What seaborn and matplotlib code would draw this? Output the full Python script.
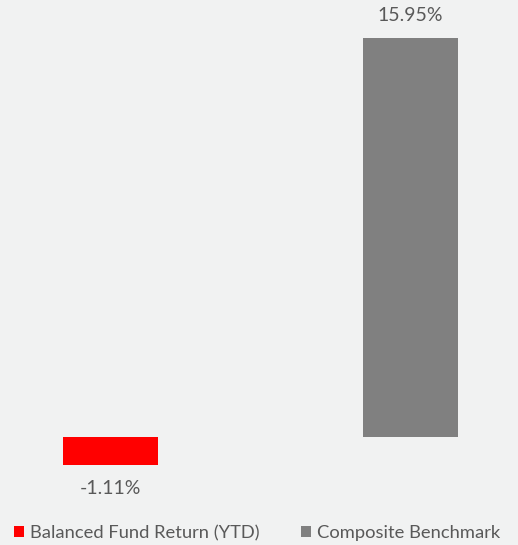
import matplotlib
matplotlib.use("Agg")
import matplotlib.pyplot as plt
import seaborn as sns
import pandas as pd
from matplotlib.patches import Patch

categories = ["Balanced Fund Return (YTD)", "Composite Benchmark"]
values = [-1.11, 15.95]
labels = ["-1.11%", "15.95%"]
colors = ["#ff0000", "#808080"]

sns.set_theme(style="white")
plt.rcParams['font.family'] = ['Lato', 'DejaVu Sans']

bg = "#f1f2f2"
txt = "#595959"

df = pd.DataFrame({"cat": categories, "val": values})

fig = plt.figure(figsize=(5.18, 5.45), dpi=100, facecolor=bg)
ax = fig.add_axes([0, 0, 1, 1])
ax.set_facecolor(bg)

sns.barplot(data=df, x="cat", y="val", hue="cat", palette=colors,
            width=0.317, ax=ax, legend=False, saturation=1, linewidth=0)

ax.set_xlim(-0.368, 1.358)
ax.set_ylim(-4.32, 17.48)
ax.axis("off")

for i, (v, lab) in enumerate(zip(values, labels)):
    if v >= 0:
        ax.annotate(lab, (i, v), xytext=(0, 10), textcoords="offset points",
                    ha="center", va="bottom", fontsize=14, color=txt)
    else:
        ax.annotate(lab, (i, v), xytext=(0, -11), textcoords="offset points",
                    ha="center", va="top", fontsize=14, color=txt)

handles = [Patch(facecolor=c, edgecolor="none", label=l) for c, l in zip(colors, categories)]
leg = fig.legend(handles=handles, loc="center left", bbox_to_anchor=(0.027, 0.022),
                 ncol=2, frameon=False, handlelength=0.55, handleheight=0.5,
                 handletextpad=0.3, columnspacing=2.3, borderaxespad=0, borderpad=0,
                 prop={"size": 13.2})
for t in leg.get_texts():
    t.set_color(txt)

fig.savefig("out.png", dpi=100, facecolor=bg)
